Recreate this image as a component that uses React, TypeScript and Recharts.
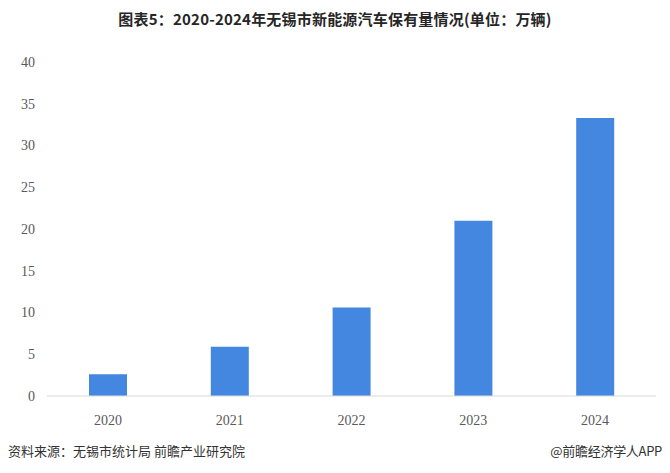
import React from 'react';
import { BarChart, Bar, XAxis, YAxis } from 'recharts';

const years = ['2020', '2021', '2022', '2023', '2024'];
const ownership = [2.6, 5.9, 10.6, 21.0, 33.3];
const yTicks = [0, 5, 10, 15, 20, 25, 30, 35, 40];

const data = years.map((year, i) => ({ year, value: ownership[i] }));

const App: React.FC = () => {
  return (
    <div style={{ position: 'relative', width: 670, height: 473, margin: -8, background: '#fff', overflow: 'hidden' }}>
      <div
        style={{
          position: 'absolute',
          top: 8,
          left: 0,
          width: 670,
          textAlign: 'center',
          fontFamily: '"Noto Sans CJK SC", "Noto Sans", sans-serif',
          fontWeight: 700,
          fontSize: 15,
          color: '#262626',
          letterSpacing: 0.2,
          whiteSpace: 'nowrap',
        }}
      >
        图表5：2020-2024年无锡市新能源汽车保有量情况(单位：万辆)
      </div>
      <BarChart
        width={670}
        height={473}
        data={data}
        margin={{ top: 62, right: 14, left: 7, bottom: 47 }}
        barSize={38}
      >
        <XAxis
          dataKey="year"
          axisLine={{ stroke: '#d9d9d9' }}
          tickLine={false}
          tickSize={0}
          tickMargin={19}
          height={30}
          tick={{ fontSize: 14, fill: '#595959', fontFamily: '"Liberation Serif", serif' }}
        />
        <YAxis
          domain={[0, 40]}
          ticks={yTicks}
          interval={0}
          width={40}
          axisLine={false}
          tickLine={false}
          tickSize={0}
          tickMargin={12}
          tick={{ fontSize: 14, fill: '#595959', fontFamily: '"Liberation Serif", serif' }}
        />
        <Bar dataKey="value" fill="#4387e0" isAnimationActive={false} />
      </BarChart>
      <div
        style={{
          position: 'absolute',
          top: 441,
          left: 8,
          width: 654,
          display: 'flex',
          justifyContent: 'space-between',
          fontFamily: '"Noto Sans CJK SC", sans-serif',
          fontSize: 13,
          color: '#333',
          whiteSpace: 'nowrap',
        }}
      >
        <span>资料来源：无锡市统计局 前瞻产业研究院</span>
        <span style={{ letterSpacing: -0.3 }}>@前瞻经济学人APP</span>
      </div>
    </div>
  );
};

export default App;
